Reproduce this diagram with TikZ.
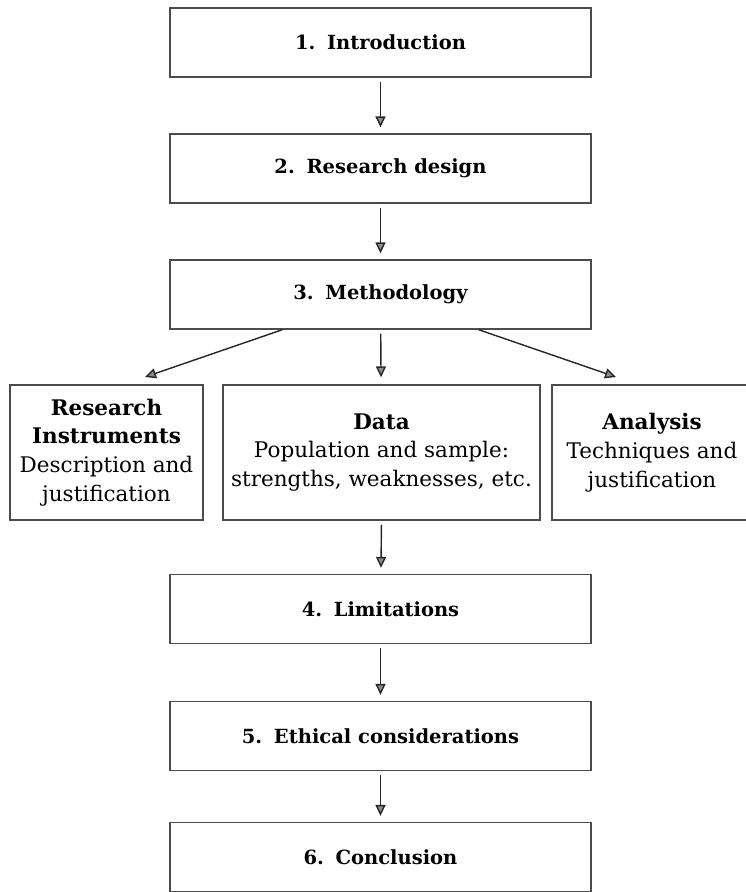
\documentclass[tikz,border=0pt]{standalone}
\usepackage{fontspec}
\setmainfont{DejaVu Serif}
\usetikzlibrary{arrows.meta}
\begin{document}
\begin{tikzpicture}[x=1pt,y=-1pt,
  box/.style={draw=black!70, line width=1.3pt, minimum width=421pt, minimum height=69pt, inner sep=0pt, font=\fontsize{19.5}{22}\selectfont\bfseries},
  side/.style={draw=black!70, line width=1.3pt, inner sep=0pt, align=center, minimum height=135pt, font=\fontsize{21.5}{28.8}\selectfont},
  arr/.style={draw=black!85, line width=1.4pt, -{Triangle[width=10pt,length=11pt,fill=black!45]}}]
\useasboundingbox (0,0) rectangle (746,892);
\node[box] (b1) at (380.5,42.5) {1.\hspace{0.6em}Introduction};
\node[box] (b2) at (380.5,168.5) {2.\hspace{0.6em}Research design};
\node[box] (b3) at (380.5,294.5) {3.\hspace{0.6em}Methodology};
\node[side, minimum width=193pt] (ri) at (106.5,452.5) {\textbf{Research}\\\textbf{Instruments}\\Description and\\justification};
\node[side, minimum width=317pt] (da) at (381.5,452.5) {\textbf{Data}\\Population and sample:\\strengths, weaknesses, etc.};
\node[side, minimum width=200pt] (an) at (652,452.5) {\textbf{Analysis}\\Techniques and\\justification};
\node[box] (b4) at (380.5,609) {4.\hspace{0.6em}Limitations};
\node[box] (b5) at (380.5,736) {5.\hspace{0.6em}Ethical considerations};
\node[box] (b6) at (380.5,857) {6.\hspace{0.6em}Conclusion};
\coordinate (lt) at (145,377);
\coordinate (rt) at (616,377);
\draw[arr, shorten <=4pt, shorten >=6pt] (b1) -- (b2);
\draw[arr, shorten <=4pt, shorten >=6pt] (b2) -- (b3);
\draw[arr] ([xshift=-98pt]b3.south) -- (lt);
\draw[arr, shorten <=4pt, shorten >=7pt] (b3) -- (da);
\draw[arr] ([xshift=98pt]b3.south) -- (rt);
\draw[arr, shorten <=4pt, shorten >=6pt] (da.south) -- (b4);
\draw[arr, shorten <=4pt, shorten >=6pt] (b4) -- (b5);
\draw[arr, shorten <=4pt, shorten >=6pt] (b5) -- (b6);
\end{tikzpicture}
\end{document}
